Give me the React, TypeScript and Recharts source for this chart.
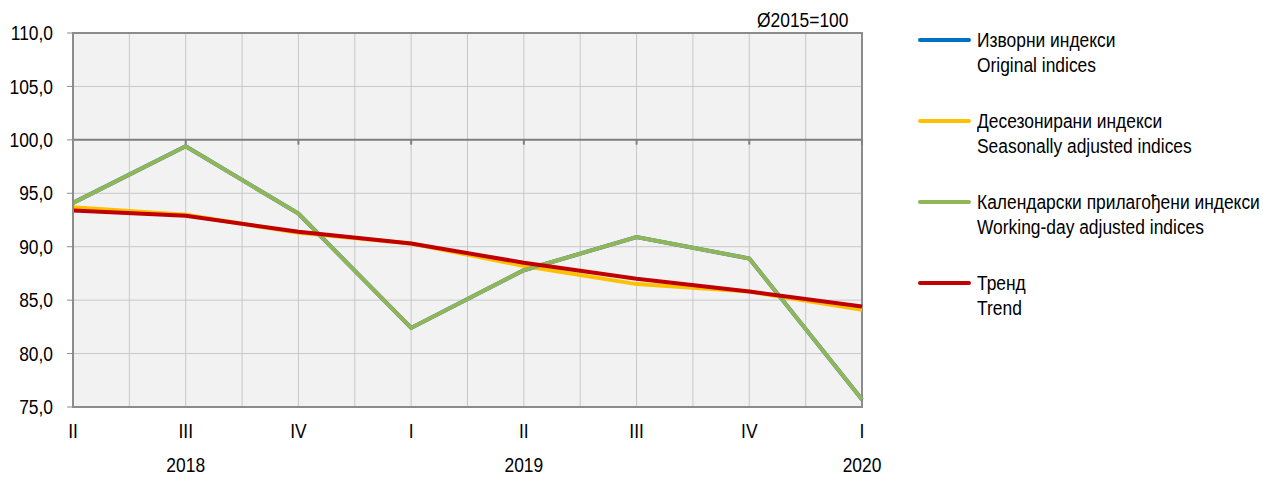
import React from 'react';
import {LineChart, Line, XAxis, YAxis, CartesianGrid, ReferenceLine, ReferenceArea} from 'recharts';

const quarters = ['II', 'III', 'IV', 'I', 'II', 'III', 'IV', 'I'];
const years = ['', '2018', '', '', '2019', '', '', '2020'];

const original = [94.1, 99.4, 93.1, 82.4, 87.8, 90.9, 88.9, 75.7];
const seasonal = [93.7, 93.0, 91.3, 90.3, 88.2, 86.5, 85.8, 84.1];
const workingDay = [94.1, 99.4, 93.1, 82.4, 87.8, 90.9, 88.9, 75.7];
const trend = [93.4, 92.9, 91.4, 90.3, 88.5, 87.0, 85.8, 84.4];

const yTicks = [75, 80, 85, 90, 95, 100, 105, 110];

const series = [
  { key: 'original', color: '#0070c0', sr: 'Изворни индекси', en: 'Original indices' },
  { key: 'seasonal', color: '#ffc000', sr: 'Десезонирани индекси', en: 'Seasonally adjusted indices' },
  { key: 'workingDay', color: '#92b557', sr: 'Календарски прилагођени индекси', en: 'Working-day adjusted indices' },
  { key: 'trend', color: '#c00000', sr: 'Тренд', en: 'Trend' },
];

const data = quarters.map((q, i) => ({
  idx: i,
  original: original[i],
  seasonal: seasonal[i],
  workingDay: workingDay[i],
  trend: trend[i],
}));

const lastIdx = quarters.length - 1;
const gridTicks = quarters.flatMap((_, i) => (i < lastIdx ? [i, i + 0.5] : [i]));
const FONT = "'Liberation Sans', Arial, sans-serif";
const NARROW = 0.87; // squeeze Liberation Sans towards Arial Narrow

const fmt = (v: number) => v.toFixed(1).replace('.', ',');

// svg tick with a horizontal squeeze
const NarrowTick = (props: any) => {
  const { x, y, payload, anchor, dy, format } = props;
  return (
    <text
      transform={`translate(${x},${y}) scale(${NARROW},1)`}
      textAnchor={anchor}
      dy={dy}
      fill="#000"
      fontSize={20}
      fontFamily={FONT}
    >
      {format(payload.value)}
    </text>
  );
};

function LegendBox() {
  return (
    <div style={{ position: 'absolute', left: 918, top: 28, fontFamily: FONT, fontSize: 20, color: '#000' }}>
      {series.map(s => (
        <div key={s.key} style={{ display: 'flex', alignItems: 'flex-start', height: 81 }}>
          <div style={{ width: 53, height: 4, background: s.color, marginTop: 10, marginRight: 6, borderRadius: 2, flexShrink: 0 }} />
          <div style={{ lineHeight: '25px', whiteSpace: 'nowrap', transform: `scaleX(${NARROW})`, transformOrigin: 'left' }}>
            <div>{s.sr}</div>
            <div>{s.en}</div>
          </div>
        </div>
      ))}
    </div>
  );
}

export default function App() {
  return (
    <div style={{ position: 'absolute', left: 0, top: 0, width: 1263, height: 477, background: '#fff' }}>
      <div
        style={{
          position: 'absolute', left: 757, top: 8, fontFamily: FONT, fontSize: 20, lineHeight: '25px',
          transform: `scaleX(${NARROW})`, transformOrigin: 'left', whiteSpace: 'nowrap',
        }}
      >
        Ø2015=100
      </div>
      <LineChart width={1263} height={477} data={data} margin={{ top: 33, right: 401, left: 0, bottom: 0 }}>
        <XAxis xAxisId="grid" dataKey="idx" type="number" domain={[0, lastIdx]} ticks={gridTicks} height={0} hide />
        <CartesianGrid xAxisId="grid" fill="#f2f2f2" stroke="#c8c8c8" strokeWidth={1} />
        <XAxis
          xAxisId="q"
          dataKey="idx"
          type="number"
          domain={[0, lastIdx]}
          ticks={quarters.map((_, i) => i)}
          height={40}
          tickSize={0}
          tickMargin={17}
          axisLine={{ stroke: '#8c8c8c', strokeWidth: 2 }}
          tick={<NarrowTick anchor="middle" dy="0.71em" format={(i: number) => quarters[i]} />}
        />
        <XAxis
          xAxisId="yr"
          dataKey="idx"
          type="number"
          domain={[0, lastIdx]}
          ticks={quarters.map((_, i) => i).filter(i => years[i])}
          height={30}
          tickSize={0}
          tickMargin={11}
          axisLine={false}
          tick={<NarrowTick anchor="middle" dy="0.71em" format={(i: number) => years[i]} />}
        />
        <YAxis
          domain={[75, 110]}
          ticks={yTicks}
          width={73}
          tickSize={6}
          tickMargin={14}
          interval={0}
          axisLine={{ stroke: '#8c8c8c', strokeWidth: 2 }}
          tickLine={{ stroke: '#8c8c8c' }}
          tick={<NarrowTick anchor="end" dy="0.355em" format={fmt} />}
        />
        <ReferenceArea xAxisId="q" x1={0} x2={lastIdx} y1={75} y2={110} fill="none" stroke="#8c8c8c" strokeWidth={2} />
        <ReferenceLine xAxisId="q" y={100} stroke="#808080" strokeWidth={2} />
        {quarters.map((_, i) => (
          <ReferenceLine
            key={`tick-${i}`}
            xAxisId="q"
            segment={[{ x: i, y: 100 }, { x: i, y: 99.55 }]}
            stroke="#808080"
            strokeWidth={2}
          />
        ))}
        {series.map(s => (
          <Line
            key={s.key}
            xAxisId="q"
            dataKey={s.key}
            stroke={s.color}
            strokeWidth={4}
            dot={false}
            isAnimationActive={false}
          />
        ))}
      </LineChart>
      <LegendBox />
    </div>
  );
}
